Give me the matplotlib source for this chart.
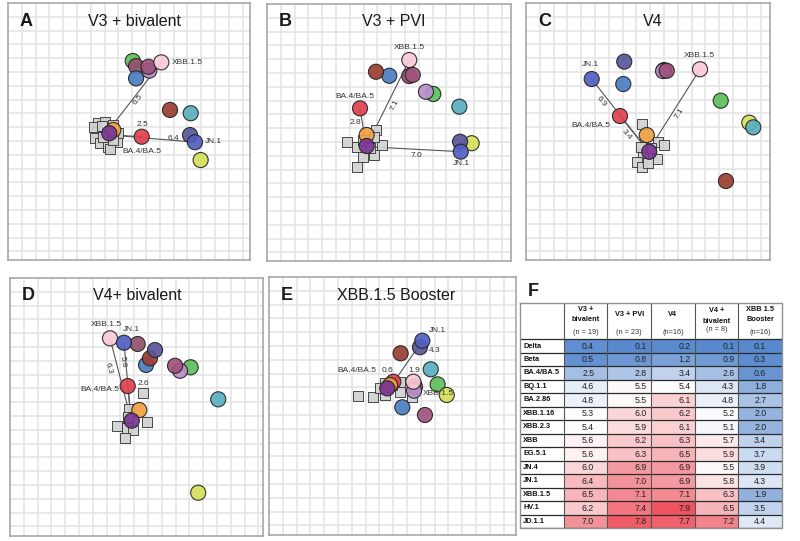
import numpy as np
import matplotlib
matplotlib.use("Agg")
import matplotlib.pyplot as plt
from matplotlib.colors import LinearSegmentedColormap, TwoSlopeNorm

FIG_W, FIG_H = 800, 541
S = 13.8  # pixels per antigenic unit (one grid square)

# ---------------- table data (panel F) ----------------
variants = ["Delta", "Beta", "BA.4/BA.5", "BQ.1.1", "BA.2.86", "XBB.1.16", "XBB.2.3",
            "XBB", "EG.5.1", "JN.4", "JN.1", "XBB.1.5", "HV.1", "JD.1.1"]
v3_bivalent = [0.4, 0.5, 2.5, 4.6, 4.8, 5.3, 5.4, 5.6, 5.6, 6.0, 6.4, 6.5, 6.2, 7.0]
v3_pvi = [0.1, 0.8, 2.8, 5.5, 5.5, 6.0, 5.9, 6.2, 6.3, 6.9, 7.0, 7.1, 7.4, 7.8]
v4 = [0.2, 1.2, 3.4, 5.4, 6.1, 6.2, 6.1, 6.3, 6.5, 6.9, 6.9, 7.1, 7.9, 7.7]
v4_bivalent = [0.1, 0.9, 2.6, 4.3, 4.8, 5.2, 5.1, 5.7, 5.9, 5.5, 5.8, 6.3, 6.5, 7.2]
xbb_booster = [0.1, 0.3, 0.6, 1.8, 2.7, 2.0, 2.0, 3.4, 3.7, 3.9, 4.3, 1.9, 3.5, 4.4]
col_headers = [["V3 +", "bivalent"], ["V3 + PVI"], ["V4"], ["V4 +", "bivalent"], ["XBB 1.5", "Booster"]]
col_n = ["(n = 19)", "(n = 23)", "(n=16)", "(n = 8)", "(n=16)"]

# ---------------- antigenic map data ----------------
antigens = ["EG.5.1", "XBB", "XBB.2.3", "XBB.1.16", "BQ.1.1", "XBB.1.5", "JD.1.1",
            "BA.2.86", "HV.1", "JN.4", "JN.1", "BA.4/BA.5", "Delta", "Beta"]
antigen_colors = {
    "EG.5.1": "#5cbf5a", "XBB": "#93506e", "XBB.2.3": "#b98fc9", "XBB.1.16": "#a0527c",
    "BQ.1.1": "#4a7fc1", "XBB.1.5": "#f9c9d6", "JD.1.1": "#9a3e32", "BA.2.86": "#d4e05a",
    "HV.1": "#5aafbf", "JN.4": "#5a5699", "JN.1": "#5060c0", "BA.4/BA.5": "#e0404f",
    "Delta": "#f0a040", "Beta": "#7a3595",
}

A_x = [9.04, 9.28, 10.24, 10.17, 9.28, 11.11, 11.74, 13.96, 13.24, 13.19, 13.55, 9.69, 7.63, 7.34]
A_y = [4.20, 4.57, 4.90, 4.62, 5.46, 4.30, 7.75, 11.38, 7.99, 9.57, 10.09, 9.69, 9.20, 9.44]
A_sera_x = [6.54, 7.03, 6.43, 6.30, 6.67, 7.27, 7.88, 8.00, 7.63, 6.91, 6.20, 7.40, 6.80, 7.60]
A_sera_y = [8.72, 8.60, 9.33, 9.81, 10.17, 10.41, 10.05, 9.44, 8.84, 9.69, 9.00, 10.60, 8.90, 9.90]

B_x = [12.05, 10.31, 11.52, 10.56, 8.86, 10.31, 7.90, 14.83, 13.94, 13.99, 14.04, 6.74, 7.22, 7.22]
B_y = [6.52, 5.22, 6.36, 5.14, 5.20, 4.06, 4.91, 10.09, 7.44, 9.98, 10.70, 7.56, 9.49, 10.29]
B_sera_x = [5.78, 6.50, 6.93, 6.54, 7.75, 8.31, 7.90, 7.75, 6.98, 7.46]
B_sera_y = [9.98, 10.34, 11.06, 11.79, 10.94, 10.22, 9.13, 9.62, 9.86, 10.46]

C_x = [14.11, 10.00, 9.93, 10.20, 7.05, 12.61, 14.49, 16.18, 16.47, 7.12, 4.76, 6.81, 8.75, 8.93]
C_y = [7.08, 4.86, 4.93, 4.91, 5.87, 4.80, 12.90, 8.67, 9.01, 4.25, 5.51, 8.19, 9.57, 10.78]
C_sera_x = [8.38, 9.59, 10.00, 8.50, 8.02, 8.38, 9.47, 8.86, 8.31, 9.08]
C_sera_y = [8.77, 10.05, 10.29, 10.89, 11.50, 11.86, 11.33, 11.62, 10.41, 10.53]

D_x = [13.09, 9.25, 12.32, 11.96, 9.86, 7.25, 10.14, 13.64, 15.09, 10.51, 8.26, 8.53, 9.37, 8.82]
D_y = [6.47, 4.78, 6.72, 6.36, 6.30, 4.37, 5.82, 15.56, 8.79, 5.22, 4.69, 7.83, 9.57, 10.34]
D_sera_x = [9.66, 8.65, 9.91, 7.73, 8.46, 8.94, 8.33, 8.57]
D_sera_y = [8.36, 9.52, 10.41, 10.72, 10.89, 11.01, 11.62, 10.05]

E_x = [12.22, 10.58, 10.51, 11.30, 9.66, 10.46, 9.54, 12.88, 11.72, 10.94, 11.11, 9.01, 8.77, 8.57]
E_y = [7.78, 7.95, 8.24, 10.00, 9.44, 7.59, 5.53, 8.55, 6.69, 5.09, 4.62, 7.59, 7.83, 8.07]
E_sera_x = [9.49, 6.47, 7.56, 8.41, 9.49, 10.34, 9.49, 8.04, 8.89, 8.41]
E_sera_y = [7.75, 8.62, 8.67, 8.55, 8.31, 8.67, 7.59, 8.07, 7.83, 7.71]

# ---------------- layout ----------------
panels = [
    dict(letter="A", title="V3 + bivalent", box=(8, 3, 250, 260), x=A_x, y=A_y,
         sx=A_sera_x, sy=A_sera_y, dist=v3_bivalent,
         lines=["XBB.1.5", "BA.4/BA.5", "JN.1"],
         dpos={"XBB.1.5": (9.45, 7.0, True), "BA.4/BA.5": (9.76, 8.84, False), "JN.1": (11.98, 9.80, False)},
         npos=[("XBB.1.5", 11.86, 4.33, "left"), ("JN.1", 14.28, 10.05, "left"), ("BA.4/BA.5", 9.71, 10.78, "center")]),
    dict(letter="B", title="V3 + PVI", box=(267, 4, 511, 261), x=B_x, y=B_y,
         sx=B_sera_x, sy=B_sera_y, dist=v3_pvi,
         lines=["XBB.1.5", "BA.4/BA.5", "JN.1"],
         dpos={"XBB.1.5": (9.25, 7.32, True), "BA.4/BA.5": (6.38, 8.60, False), "JN.1": (10.85, 11.01, False)},
         npos=[("XBB.1.5", 10.31, 3.17, "center"), ("BA.4/BA.5", 6.38, 6.67, "center"), ("JN.1", 14.11, 11.59, "center")]),
    dict(letter="C", title="V4", box=(526, 3, 770, 260), x=C_x, y=C_y,
         sx=C_sera_x, sy=C_sera_y, dist=v4,
         lines=["JN.1", "BA.4/BA.5", "XBB.1.5"],
         dpos={"JN.1": (5.43, 7.15, True), "BA.4/BA.5": (7.25, 9.57, True), "XBB.1.5": (11.11, 7.99, True)},
         npos=[("JN.1", 4.64, 4.49, "center"), ("XBB.1.5", 12.54, 3.84, "center"), ("BA.4/BA.5", 6.14, 8.91, "right")]),
    dict(letter="D", title="V4+ bivalent", box=(10, 278, 263, 536), x=D_x, y=D_y,
         sx=D_sera_x, sy=D_sera_y, dist=v4_bivalent,
         lines=["XBB.1.5", "JN.1", "BA.4/BA.5"],
         dpos={"XBB.1.5": (7.12, 6.54, True), "JN.1": (8.17, 6.07, True), "BA.4/BA.5": (9.66, 7.68, False)},
         npos=[("XBB.1.5", 6.96, 3.36, "center"), ("JN.1", 8.77, 3.72, "center"), ("BA.4/BA.5", 7.90, 8.07, "right")]),
    dict(letter="E", title="XBB.1.5 Booster", box=(269, 277, 516, 535), x=E_x, y=E_y,
         sx=E_sera_x, sy=E_sera_y, dist=xbb_booster,
         lines=["JN.1", "BA.4/BA.5", "XBB.1.5"],
         dpos={"JN.1": (12.03, 5.29, False), "BA.4/BA.5": (8.57, 6.79, False), "XBB.1.5": (10.51, 6.79, False)},
         npos=[("JN.1", 12.20, 3.91, "center"), ("BA.4/BA.5", 7.80, 6.79, "right"), ("XBB.1.5", 11.16, 8.43, "left")]),
]

fig = plt.figure(figsize=(FIG_W / 100, FIG_H / 100), dpi=100)
fig.patch.set_facecolor("white")

TITLE_FONT = "Liberation Sans"
SMALL_FONT = "Liberation Sans"

for p in panels:
    x0, y0, x1, y1 = p["box"]
    w, h = x1 - x0, y1 - y0
    ax = fig.add_axes([x0 / FIG_W, 1 - y1 / FIG_H, w / FIG_W, h / FIG_H])
    ax.set_xlim(0, w / S)
    ax.set_ylim(h / S, 0)
    ax.set_xticks(np.arange(1, w / S))
    ax.set_yticks(np.arange(1, h / S))
    ax.grid(True, color="#e3e3e3", lw=1.1)
    ax.tick_params(length=0, labelbottom=False, labelleft=False)
    for sp in ax.spines.values():
        sp.set_color("#a8a8a8")
        sp.set_linewidth(1.2)
    ax.set_axisbelow(True)

    xs = dict(zip(antigens, p["x"]))
    ys = dict(zip(antigens, p["y"]))
    cx, cy = np.mean(p["sx"]), np.mean(p["sy"])

    # distance lines
    for name in p["lines"]:
        ax.plot([cx, xs[name]], [cy, ys[name]], color="#555555", lw=0.8, zorder=2)
    # sera
    ax.scatter(p["sx"], p["sy"], marker="s", s=50, facecolor="#d2d2d2",
               edgecolor="#3a3a3a", linewidth=0.7, alpha=0.92, zorder=3)
    # antigens
    ax.scatter(p["x"], p["y"], s=118, c=[antigen_colors[a] for a in antigens],
               edgecolor="#222222", linewidth=0.8, alpha=0.92, zorder=4)

    # distance labels
    for name, (lx, ly, rot) in p["dpos"].items():
        val = p["dist"][variants.index(name)]
        angle = 0
        if rot:
            (ax_, ay_), (bx_, by_) = ax.transData.transform([(cx, cy), (xs[name], ys[name])])
            angle = np.degrees(np.arctan2(by_ - ay_, bx_ - ax_))
            if angle > 90:
                angle -= 180
            if angle < -90:
                angle += 180
        ax.text(lx, ly, f"{val:.1f}", fontsize=6, family=SMALL_FONT, color="#333333",
                ha="center", va="center", rotation=angle, rotation_mode="anchor", zorder=5)
    # name labels
    for name, lx, ly, ha in p["npos"]:
        ax.text(lx, ly, name, fontsize=6, family=SMALL_FONT, color="#333333",
                ha=ha, va="center", zorder=5)

    # title and letter
    ax.text(127 / w, 1 - 18 / h, p["title"], transform=ax.transAxes, fontsize=11.5,
            family=TITLE_FONT, ha="center", va="center", color="#1a1a1a")
    ax.text(12 / w, 1 - 18 / h, p["letter"], transform=ax.transAxes, fontsize=13,
            family=TITLE_FONT, fontweight="bold", ha="left", va="center", color="#1a1a1a")

# ---------------- panel F table ----------------
T_LEFT, T_RIGHT, T_TOP, T_BOT = 520, 782, 303, 528
ROW_H = (T_BOT - 339.3) / len(variants)
HEAD = (339.3 - T_TOP) / ROW_H
tax = fig.add_axes([T_LEFT / FIG_W, 1 - T_BOT / FIG_H, (T_RIGHT - T_LEFT) / FIG_W, (T_BOT - T_TOP) / FIG_H])
tax.set_xlim(0, 6)
tax.set_ylim(len(variants), -HEAD)
tax.axis("off")

cmap = LinearSegmentedColormap.from_list("bwr_custom", ["#5587cd", "#ffffff", "#ee5560"])
norm = TwoSlopeNorm(vmin=0, vcenter=5.4, vmax=7.9)
data = np.array([v3_bivalent, v3_pvi, v4, v4_bivalent, xbb_booster]).T
tax.pcolormesh(np.arange(1, 7), np.arange(0, len(variants) + 1), data, cmap=cmap, norm=norm)

# grid lines
tax.hlines(np.arange(0, len(variants) + 1), 0, 6, color="#2a2a2a", lw=0.9)
tax.vlines(np.arange(1, 6), -HEAD, len(variants), color="#555555", lw=0.8)
tax.plot([0, 6, 6, 0, 0], [-HEAD, -HEAD, len(variants), len(variants), -HEAD],
         color="#909090", lw=1.0, clip_on=False)

value_pad = [0.30, 0.09, 0.09, 0.09, None]
for r, var in enumerate(variants):
    tax.text(0.07, r + 0.5, var, fontsize=5.3, family=SMALL_FONT, fontweight="bold",
             ha="left", va="center", color="#111111")
    for c in range(5):
        v = data[r, c]
        if value_pad[c] is None:
            tax.text(c + 1.5, r + 0.52, f"{v:.1f}", fontsize=6.3, family=SMALL_FONT,
                     ha="center", va="center", color="#222222")
        else:
            tax.text(c + 2 - value_pad[c], r + 0.52, f"{v:.1f}", fontsize=6.3, family=SMALL_FONT,
                     ha="right", va="center", color="#222222")

# header
head_y = {2: [-2.23, -1.49], 1: [-1.81]}
for c, lines in enumerate(col_headers):
    ys_ = head_y[len(lines)]
    if c == 3:
        ys_ = [-2.13, -1.31]
    for yy, txt in zip(ys_, lines):
        tax.text(c + 1.5, yy, txt, fontsize=5.3, family=SMALL_FONT, fontweight="bold",
                 ha="center", va="center", color="#111111")
    ny = -0.69 if c == 3 else -0.49
    tax.text(c + 1.5, ny, col_n[c], fontsize=5.3, family=SMALL_FONT,
             ha="center", va="center", color="#333333")

fig.text(533.3 / FIG_W, 1 - 291.7 / FIG_H, "F", fontsize=13, family=TITLE_FONT,
         fontweight="bold", ha="center", va="center", color="#1a1a1a")

fig.savefig("out.png", dpi=100, facecolor="white")
